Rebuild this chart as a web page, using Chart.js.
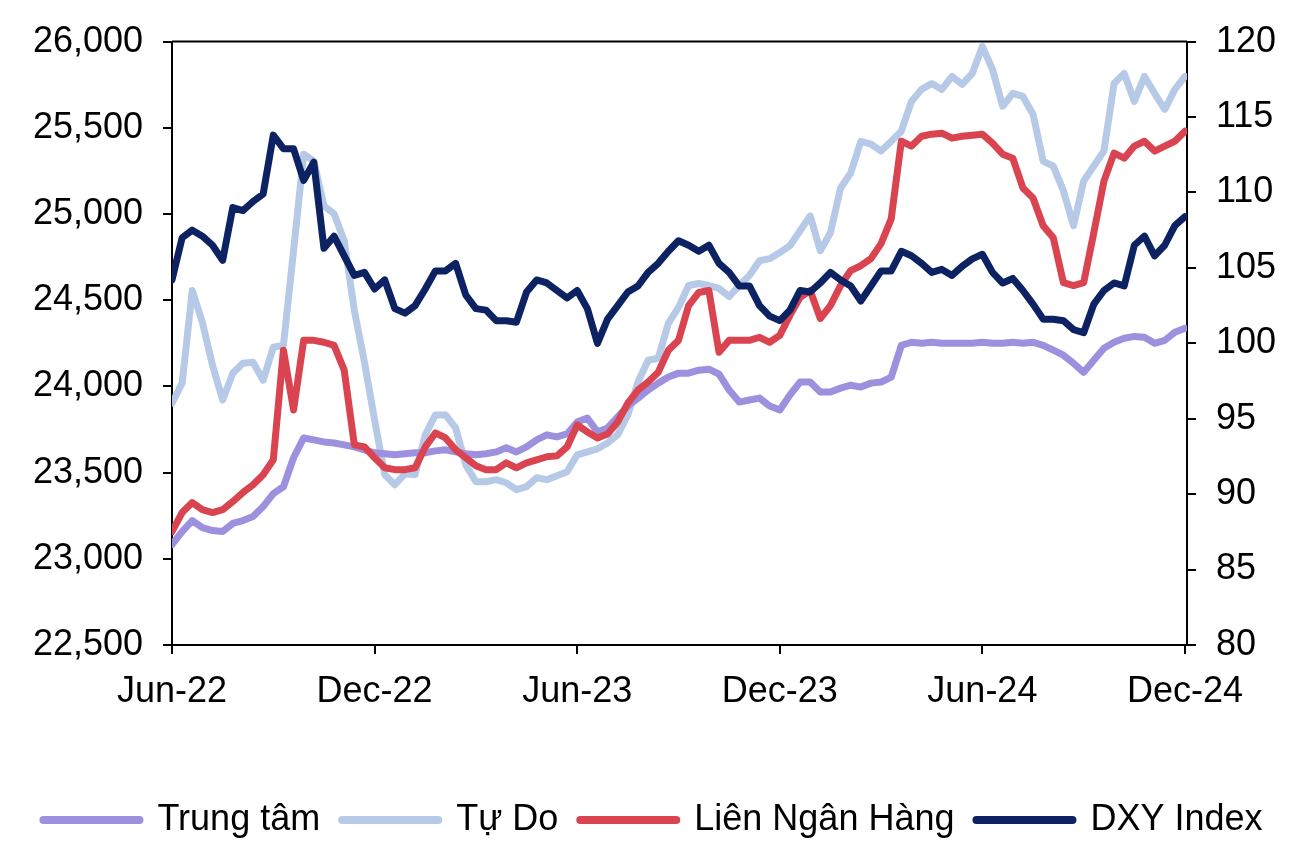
<!DOCTYPE html>
<html>
<head>
<meta charset="utf-8">
<script src="https://cdn.jsdelivr.net/npm/chart.js@4.4.1/dist/chart.umd.min.js"></script>
<style>
  html, body { margin: 0; padding: 0; background: #fff; }
</style>
</head>
<body>
<canvas id="myChart" width="1306" height="854"></canvas>
<script>
// tick labels on the time axis, one every 6 months
const tickLabels = ['Jun-22', 'Dec-22', 'Jun-23', 'Dec-23', 'Jun-24', 'Dec-24'];
// samples are ~9 days apart (0.3 month)
const STEP_MONTHS = 0.3;

// VND/USD, left axis
const trungTam = [
    23083, 23158, 23222, 23181, 23164, 23158, 23205, 23222, 23245, 23303,
    23378, 23418, 23586, 23701, 23690, 23678, 23672, 23661, 23649, 23632,
    23615, 23609, 23603, 23609, 23615, 23615, 23626, 23632, 23620, 23609,
    23603, 23609, 23620, 23644, 23620, 23649, 23690, 23719, 23707, 23724,
    23794, 23817, 23736, 23759, 23823, 23886, 23932, 23979, 24019, 24054,
    24077, 24077, 24094, 24100, 24071, 23979, 23909, 23921, 23932, 23886,
    23863, 23950, 24025, 24025, 23967, 23967, 23990, 24007, 23996, 24019,
    24025, 24054, 24238, 24256, 24250, 24256, 24250, 24250, 24250, 24250,
    24256, 24250, 24250, 24256, 24250, 24256, 24238, 24210, 24181, 24134,
    24082, 24152, 24221, 24256, 24279, 24290, 24285, 24250, 24267, 24314,
    24337
];

const tuDo = [
    23903, 24019, 24556, 24371, 24123, 23921, 24077, 24134, 24140, 24036,
    24227, 24238, 24787, 25347, 25307, 25047, 25001, 24845, 24441, 24140,
    23805, 23488, 23430, 23493, 23488, 23719, 23834, 23834, 23759, 23545,
    23447, 23447, 23459, 23441, 23401, 23418, 23470, 23459, 23482, 23505,
    23603, 23620, 23638, 23672, 23719, 23834, 24025, 24152, 24163, 24366,
    24458, 24585, 24597, 24585, 24568, 24521, 24585, 24643, 24729, 24741,
    24776, 24816, 24903, 24989, 24787, 24891, 25151, 25238, 25422, 25405,
    25365, 25422, 25480, 25653, 25723, 25757, 25723, 25798, 25752, 25815,
    25971, 25838, 25625, 25700, 25682, 25578, 25307, 25278, 25134, 24932,
    25191, 25278, 25365, 25757, 25815, 25653, 25798, 25700, 25607, 25723,
    25798
];

const lienNganHang = [
    23158, 23268, 23326, 23285, 23268, 23285, 23332, 23384, 23430, 23488,
    23574, 24210, 23863, 24267, 24267, 24256, 24238, 24094, 23661, 23649,
    23586, 23528, 23517, 23517, 23528, 23649, 23730, 23701, 23632, 23586,
    23540, 23517, 23517, 23557, 23528, 23557, 23574, 23592, 23597, 23649,
    23776, 23736, 23701, 23724, 23794, 23903, 23979, 24025, 24082, 24210,
    24267, 24469, 24545, 24556, 24198, 24267, 24267, 24267, 24285, 24256,
    24296, 24412, 24516, 24556, 24394, 24469, 24585, 24672, 24700, 24741,
    24828, 24972, 25422, 25394, 25451, 25463, 25469, 25440, 25451, 25457,
    25463, 25411, 25347, 25324, 25151, 25093, 24932, 24862, 24602, 24585,
    24602, 24891, 25191, 25353, 25324, 25394, 25422, 25365, 25394, 25422,
    25480
];

// DXY, right axis
const dxy = [
    104.2, 107.0, 107.5, 107.1, 106.5, 105.5, 109.0, 108.8, 109.4, 109.9,
    113.8, 112.9, 112.9, 110.8, 112.0, 106.3, 107.1, 105.8, 104.5, 104.7,
    103.6, 104.2, 102.3, 102.0, 102.5, 103.6, 104.8, 104.8, 105.3, 103.2,
    102.3, 102.2, 101.5, 101.5, 101.4, 103.4, 104.2, 104.0, 103.5, 103.0,
    103.5, 102.3, 100.0, 101.6, 102.5, 103.4, 103.8, 104.7, 105.3, 106.1,
    106.8, 106.5, 106.1, 106.5, 105.3, 104.7, 103.8, 103.8, 102.5, 101.8,
    101.5, 102.2, 103.5, 103.4, 104.0, 104.7, 104.2, 103.8, 102.8, 103.8,
    104.8, 104.8, 106.1, 105.8, 105.3, 104.7, 104.9, 104.5, 105.1, 105.6,
    105.9, 104.7, 104.0, 104.3, 103.5, 102.6, 101.6, 101.6, 101.5, 100.9,
    100.7, 102.6, 103.5, 104.0, 103.8, 106.5, 107.1, 105.8, 106.5, 107.8,
    108.4
];

Chart.defaults.font.family = "'Liberation Sans', Arial, sans-serif";
Chart.defaults.font.size = 36;
Chart.defaults.color = '#000';

function toPoints(values) {
    return values.map((v, i) => ({ x: i * STEP_MONTHS, y: v }));
}

function makeSeries(label, values, color, axis, order) {
    return {
        label: label,
        data: toPoints(values),
        yAxisID: axis,
        borderColor: color,
        backgroundColor: color,
        borderWidth: 7,
        borderCapStyle: 'round',
        borderJoinStyle: 'round',
        pointRadius: 0,
        tension: 0,
        order: order,
    };
}

const axisGrid = {
    drawOnChartArea: false,
    drawTicks: true,
    tickLength: 9,
    color: '#000',
    lineWidth: 2,
};

const topLine = {
    id: 'topLine',
    afterDatasetsDraw(chart) {
        const { ctx, chartArea } = chart;
        ctx.save();
        ctx.strokeStyle = '#000';
        ctx.lineWidth = 2;
        ctx.beginPath();
        ctx.moveTo(chartArea.left, chartArea.top);
        ctx.lineTo(chartArea.right, chartArea.top);
        ctx.stroke();
        ctx.restore();
    },
};

new Chart(document.getElementById('myChart'), {
    type: 'line',
    data: {
        datasets: [
            makeSeries('Trung tâm', trungTam, '#9d90df', 'y', 2),
            makeSeries('Tự Do', tuDo, '#b6cae7', 'y', 3),
            makeSeries('Liên Ngân Hàng', lienNganHang, '#d94450', 'y', 1),
            makeSeries('DXY Index', dxy, '#0c2262', 'y1', 0),
        ],
    },
    options: {
        responsive: false,
        animation: false,
        devicePixelRatio: 1,
        layout: { padding: { top: 40, left: 0, right: 0, bottom: 6 } },
        plugins: {
            tooltip: { enabled: false },
            legend: {
                position: 'bottom',
                labels: {
                    usePointStyle: true,
                    pointStyle: 'line',
                    pointStyleWidth: 96,
                    padding: 22,
                    color: '#000',
                    font: { size: 36 },
                    generateLabels(chart) {
                        const items = Chart.defaults.plugins.legend.labels.generateLabels(chart);
                        items.sort((a, b) => a.datasetIndex - b.datasetIndex);
                        items.forEach((it) => {
                            it.lineWidth = 8;
                            it.lineCap = 'round';
                        });
                        return items;
                    },
                },
            },
        },
        scales: {
            x: {
                type: 'linear',
                min: 0,
                max: 30.06,
                afterBuildTicks: (scale) => {
                    scale.ticks = tickLabels.map((_, k) => ({ value: k * 6 }));
                },
                afterFit: (scale) => { scale.height = 135; },
                ticks: {
                    autoSkip: false,
                    maxRotation: 0,
                    padding: 16,
                    callback: (value, index) => tickLabels[index],
                },
                grid: axisGrid,
                border: { color: '#000', width: 2 },
            },
            y: {
                position: 'left',
                min: 22500,
                max: 26000,
                afterFit: (scale) => { scale.width = 172; },
                ticks: {
                    stepSize: 500,
                    padding: 20,
                    callback: (value) => value.toLocaleString('en-US'),
                },
                grid: axisGrid,
                border: { color: '#000', width: 2 },
            },
            y1: {
                position: 'right',
                min: 80,
                max: 120,
                afterFit: (scale) => { scale.width = 119; },
                ticks: {
                    stepSize: 5,
                    padding: 20,
                },
                grid: axisGrid,
                border: { color: '#000', width: 2 },
            },
        },
    },
    plugins: [topLine],
});
</script>
</body>
</html>
